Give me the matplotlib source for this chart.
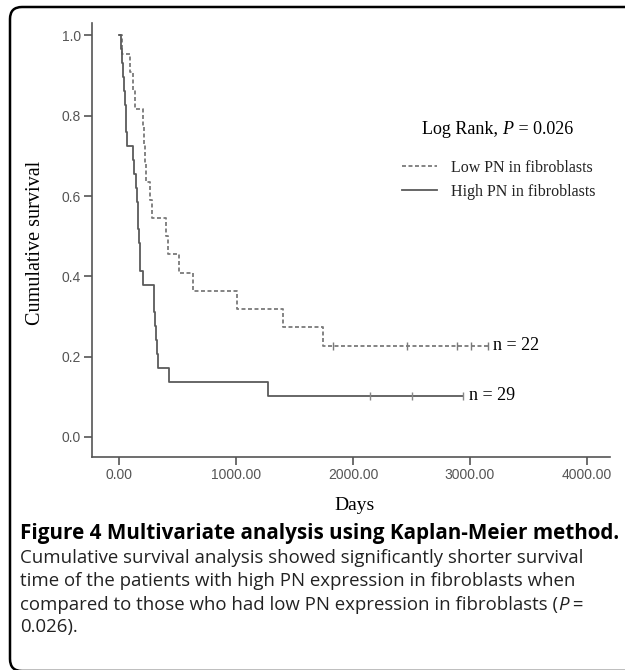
import matplotlib
matplotlib.use("Agg")
import matplotlib.pyplot as plt
from matplotlib.path import Path
from matplotlib.patches import PathPatch

# Kaplan-Meier steps (days, cumulative survival)
low_days = [0, 23, 94, 122, 137, 202, 210, 218, 231, 265, 279, 401, 421,
            513, 630, 1009, 1402, 1744, 3154]
low_surv = [1.0, 0.955, 0.909, 0.864, 0.818, 0.773, 0.727, 0.682, 0.636,
            0.591, 0.545, 0.5, 0.455, 0.409, 0.364, 0.318, 0.273, 0.227, 0.227]
low_cens_days = [1829, 2462, 2889, 3009, 3154]
low_cens_surv = [0.227] * 5

high_days = [0, 17, 26, 34, 40, 47, 56, 60, 66, 120, 128, 143, 150, 158,
             165, 175, 178, 181, 208, 297, 300, 305, 316, 326, 337, 427,
             1274, 2940]
high_surv = [1.0, 0.966, 0.931, 0.897, 0.862, 0.828, 0.793, 0.759, 0.724,
             0.690, 0.655, 0.621, 0.586, 0.552, 0.517, 0.483, 0.448, 0.414,
             0.379, 0.345, 0.310, 0.276, 0.241, 0.207, 0.172, 0.138, 0.103,
             0.103]
high_cens_days = [2145, 2504, 2940]
high_cens_surv = [0.103] * 3

x_ticks = [0, 1000, 2000, 3000, 4000]
y_ticks = [0.0, 0.2, 0.4, 0.6, 0.8, 1.0]

plt.rcParams["font.family"] = ["Liberation Sans", "DejaVu Sans"]

W, H = 625, 670
fig = plt.figure(figsize=(W / 100, H / 100), dpi=100)


def fx(px):
    return px / W


def fy(py):
    return 1 - py / H


# frame of the figure panel: only the top and left edges are in view
r = 12
pts = [(W + 10, 7), (10 + r, 7), (10, 7), (10, 7 + r), (10, 671 - r),
       (10, 671), (10 + r, 671), (W + 10, 671)]
codes = [Path.MOVETO, Path.LINETO, Path.CURVE3, Path.CURVE3, Path.LINETO,
         Path.CURVE3, Path.CURVE3, Path.LINETO]
frame_path = Path([(fx(a), fy(b)) for a, b in pts], codes)
fig.patches.append(PathPatch(frame_path, transform=fig.transFigure,
                             fill=False, edgecolor="black", linewidth=1.8))

ax = fig.add_axes([fx(92), fy(457), fx(610) - fx(92), fy(23) - fy(457)])

grey_axis = "#555555"
low_color = "#7a7a7a"
high_color = "#5a5a5a"

ax.step(low_days, low_surv, where="post", color=low_color, lw=1.3,
        linestyle=(0, (2.2, 1.4)), label="Low PN in fibroblasts")
ax.step(high_days, high_surv, where="post", color=high_color, lw=1.3,
        label="High PN in fibroblasts")
ax.plot(low_cens_days, low_cens_surv, "|", color=low_color, ms=6, mew=1)
ax.plot(high_cens_days, high_cens_surv, "|", color="#888888", ms=6, mew=1)

ax.set_xlim(-231, 4197)
ax.set_ylim(-0.05, 1.031)
ax.set_xticks(x_ticks)
ax.set_xticklabels([f"{t:.2f}" for t in x_ticks])
ax.set_yticks(y_ticks)
ax.set_yticklabels([f"{t:.1f}" for t in y_ticks])

for side in ("top", "right"):
    ax.spines[side].set_visible(False)
for side in ("left", "bottom"):
    ax.spines[side].set_color(grey_axis)
    ax.spines[side].set_linewidth(1.2)
ax.tick_params(direction="out", length=6, width=1.2, color=grey_axis,
               labelcolor=grey_axis, labelsize=10, pad=2)

serif = "Liberation Serif"
fig.text(fx(36), fy(243), "Cumulative survival", rotation=90, family=serif,
         fontsize=14.5, ha="center", va="center")
fig.text(fx(355), fy(506), "Days", family=serif, fontsize=14,
         ha="center", va="center")

# log-rank annotation
t1 = fig.text(fx(422), fy(129), "Log Rank, ", family=serif, fontsize=13,
              ha="left", va="center")
t2 = ax.annotate("P", xy=(1, 0), xycoords=t1, va="bottom", ha="left",
                 family=serif, style="italic", fontsize=13)
ax.annotate(" = 0.026", xy=(1, 0), xycoords=t2, va="bottom", ha="left",
            family=serif, fontsize=13)

leg = ax.legend(loc="upper left", bbox_to_anchor=(fx(402), fy(160)),
                bbox_transform=fig.transFigure, frameon=False,
                prop={"family": serif, "size": 11.5}, handlelength=2.2,
                handletextpad=0.85, labelspacing=0.5, borderpad=0,
                borderaxespad=0)
for txt in leg.get_texts():
    txt.set_color("#222222")

ax.text(3200, 0.227, "n = 22", family=serif, fontsize=13, va="center",
        ha="left")
ax.text(2990, 0.103, "n = 29", family=serif, fontsize=13, va="center",
        ha="left")

# caption
cap = "Open Sans"
cap_size = 13.4
fig.text(fx(20), fy(533), "Figure 4 Multivariate analysis using Kaplan-Meier method.",
         family=cap, weight="bold", fontsize=14.85, ha="left", va="center")
lines = [
    "Cumulative survival analysis showed significantly shorter survival",
    "time of the patients with high PN expression in fibroblasts when",
]
ys = [558, 581]
for txt, yy in zip(lines, ys):
    fig.text(fx(20), fy(yy), txt, family=cap, fontsize=cap_size, ha="left",
             va="center", color="#222222")
c1 = fig.text(fx(20), fy(605), "compared to those who had low PN expression in fibroblasts (",
              family=cap, fontsize=cap_size, ha="left", va="center", color="#222222")
c2 = ax.annotate("P", xy=(1, 0), xycoords=c1, va="bottom", ha="left",
                 family=cap, style="italic", fontsize=cap_size, color="#222222")
ax.annotate(" =", xy=(1, 0), xycoords=c2, va="bottom", ha="left",
            family=cap, fontsize=cap_size, color="#222222")
fig.text(fx(20), fy(627), "0.026).", family=cap, fontsize=cap_size, ha="left",
         va="center", color="#222222")

fig.savefig("out.png", dpi=100)
